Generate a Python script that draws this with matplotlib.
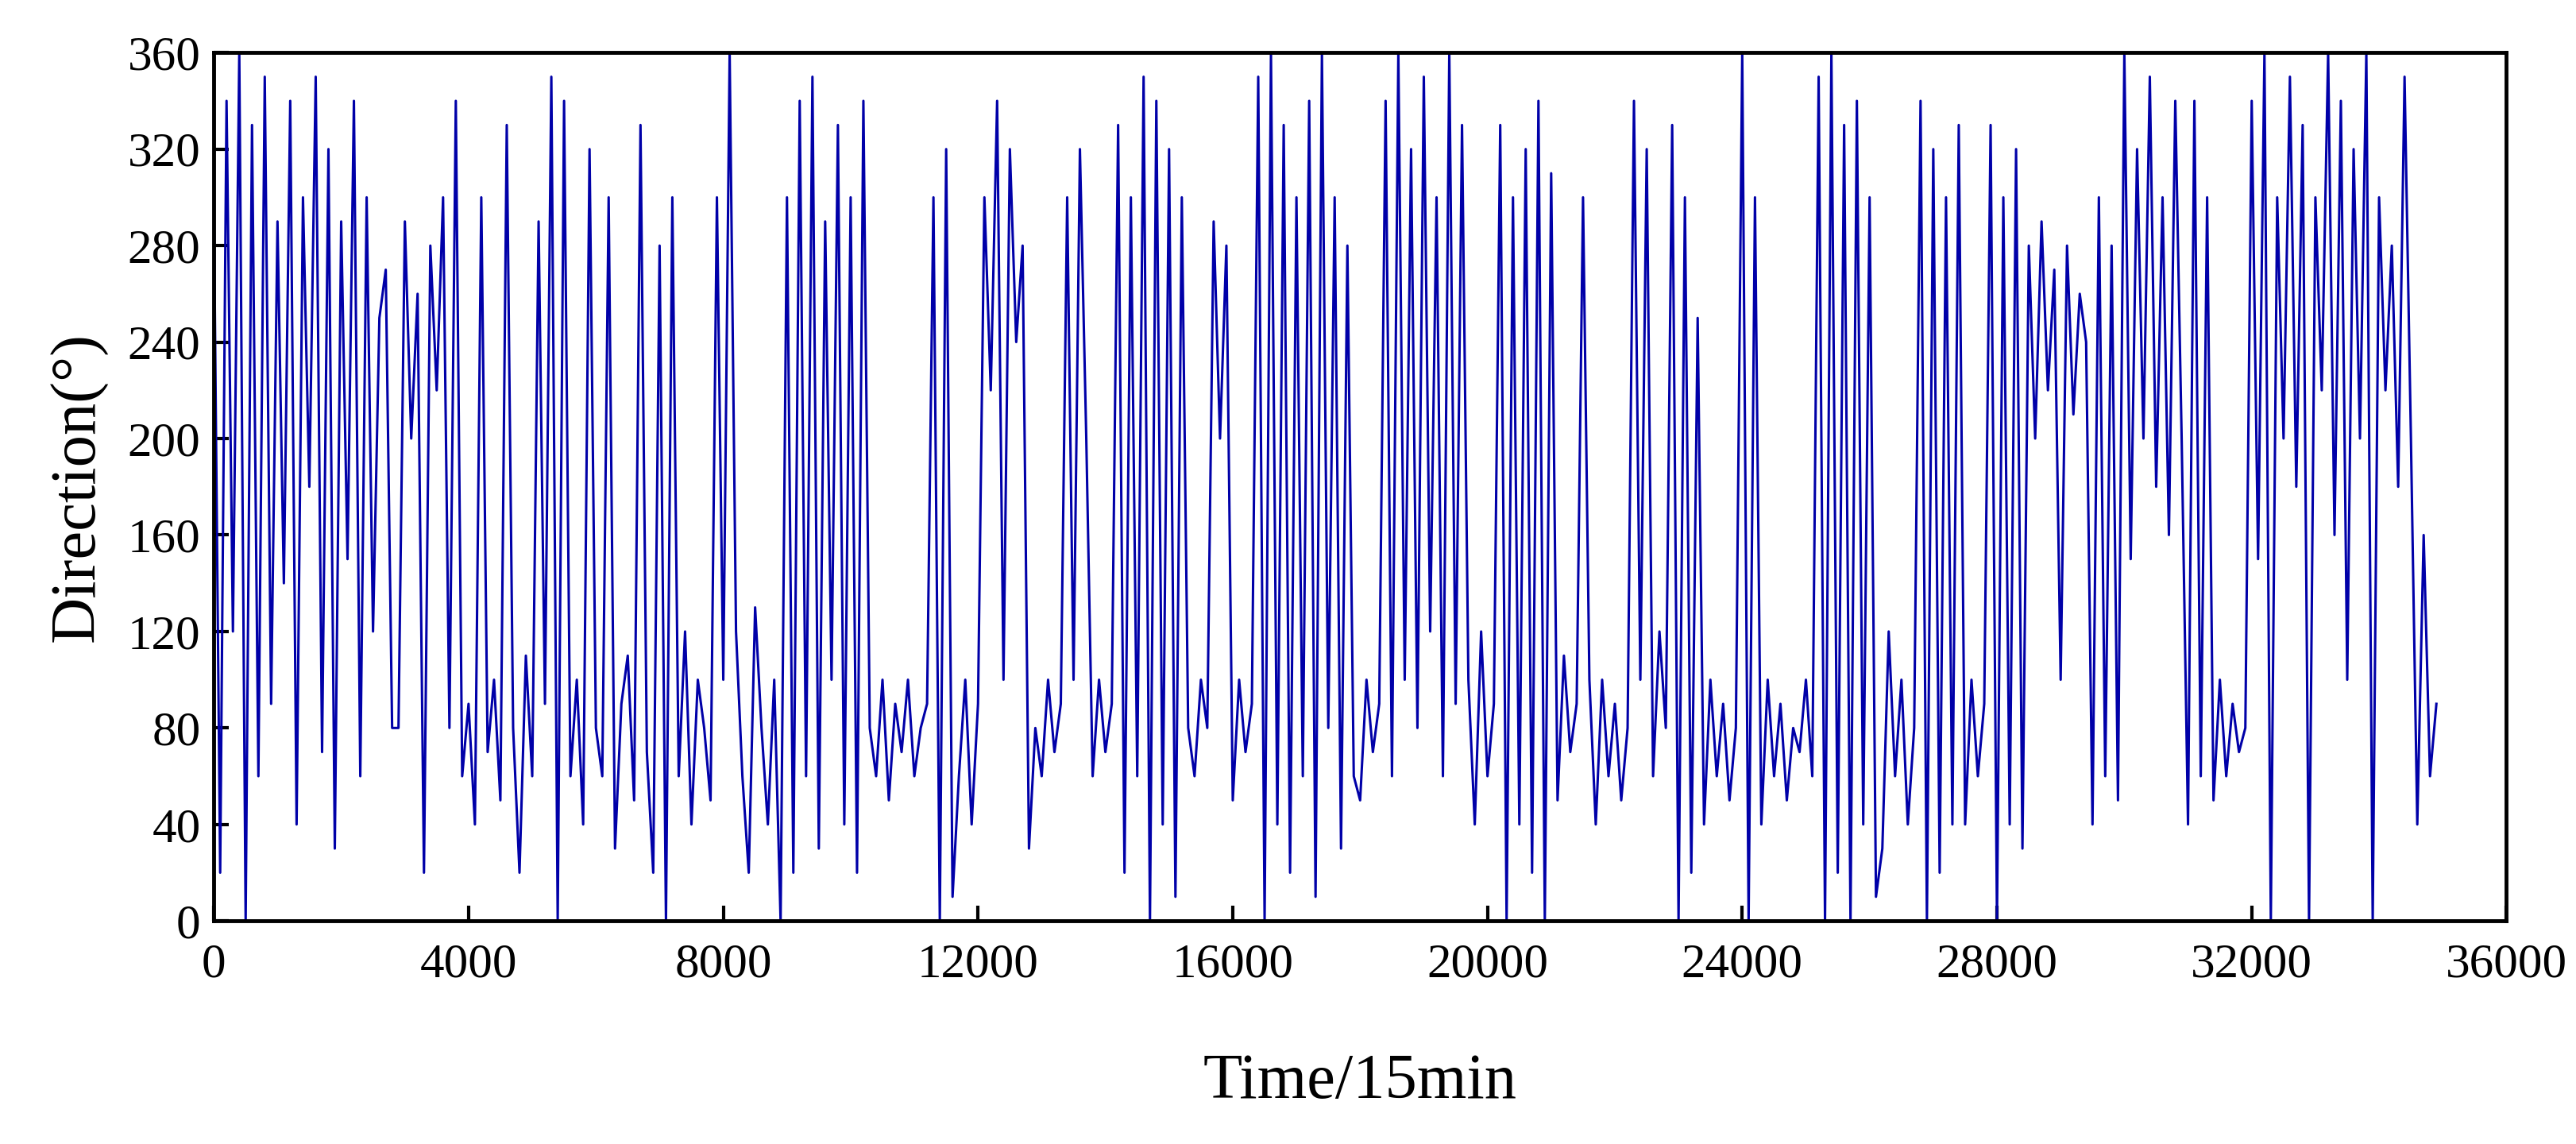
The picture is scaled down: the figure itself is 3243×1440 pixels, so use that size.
import matplotlib
matplotlib.use("Agg")
import matplotlib.pyplot as plt
import numpy as np

# wind direction read approx every 100 steps (15-min samples)
step = 100
direction = [
 300,20,340,120,360,0,330,60,350,90,290,140,340,40,300,180,350,70,320,30,290,150,340,60,300,120,
 250,270,80,80,
 290,200,260,20,280,220,300,
 80,340,60,90,40,300,70,100,50,330,80,20,110,60,290,90,
 350,0,340,60,
 100,40,320,80,60,300,30,90,110,50,330,70,20,
 280,0,300,
 60,120,40,100,80,50,
 300,100,360,120,
 60,20,130,80,40,100,0,
 300,20,340,60,350,30,290,100,330,40,300,20,340,
 80,60,100,50,90,70,100,60,80,90,
 300,0,320,10,
 60,100,40,90,
 300,220,340,100,320,240,280,30,
 80,60,100,70,90,
 300,100,320,200,
 60,100,70,90,
 330,20,300,60,350,0,340,40,320,10,300,80,
 60,100,80,
 290,200,280,
 50,100,70,90,
 350,0,360,40,330,20,300,60,340,10,360,80,
 300,30,280,60,
 50,100,70,90,
 340,60,360,100,320,80,350,120,300,60,360,90,330,100,
 40,120,60,90,
 330,0,300,40,320,20,340,0,310,
 50,110,70,90,
 300,100,
 40,100,60,90,50,80,
 340,100,320,
 60,120,80,
 330,0,300,20,250,
 40,100,60,90,50,80,
 360,0,300,
 40,100,60,90,50,80,70,100,60,
 350,0,360,20,330,0,340,40,300,10,
 30,120,60,100,40,80,
 340,0,320,20,300,40,330,
 40,100,60,90,
 330,0,300,40,320,30,280,
 200,290,220,270,100,280,210,260,240,
 40,300,60,280,50,
 360,150,320,200,350,180,300,160,340,200,
 40,340,60,300,
 50,100,60,90,70,80,
 340,150,360,0,300,200,350,180,330,0,300,220,360,160,340,100,320,200,360,0,300,220,280,180,350,200,
 40,160,60,90,
]
x_ticks = [0, 4000, 8000, 12000, 16000, 20000, 24000, 28000, 32000, 36000]
y_ticks = [0, 40, 80, 120, 160, 200, 240, 280, 320, 360]

t = np.arange(len(direction)) * step

plt.rcParams['font.family'] = ['Liberation Serif', 'DejaVu Serif']
fig = plt.figure(figsize=(32.43, 14.40), dpi=100)
ax = fig.add_axes([0.083, 0.195, 0.890, 0.759])
ax.plot(t, direction, color='#0000A8', lw=2.2)
ax.set_xlim(0, 36000)
ax.set_ylim(0, 360)
ax.set_xticks(x_ticks)
ax.set_yticks(y_ticks)
ax.tick_params(direction='in', length=14, width=3, labelsize=44, pad=12)
ax.tick_params(axis='x', pad=20)
for s in ax.spines.values():
    s.set_linewidth(3.5)
ax.set_xlabel('Time/15min', fontsize=58, labelpad=60)
ax.set_ylabel('Direction(°)', fontsize=58, labelpad=18)
fig.savefig('out.png', dpi=100)
